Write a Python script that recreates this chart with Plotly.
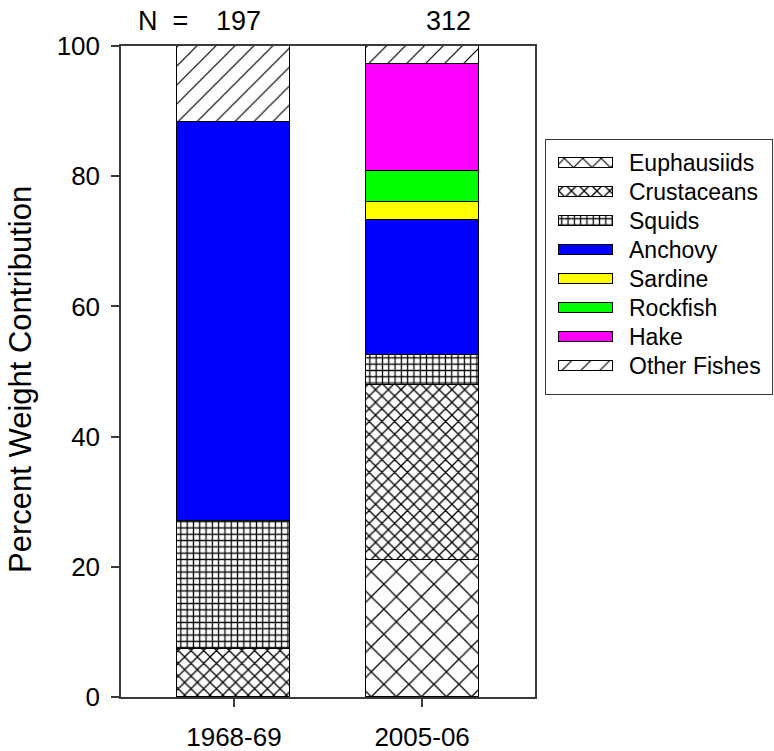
import plotly.graph_objects as go

# Diet composition (% by weight) for two sampling periods
periods = ["1968-69", "2005-06"]
sample_sizes = ["197", "312"]
prey = ["Euphausiids", "Crustaceans", "Squids", "Anchovy",
        "Sardine", "Rockfish", "Hake", "Other Fishes"]
euphausiids = [0.0, 21.1]
crustaceans = [7.3, 26.9]
squids = [19.7, 4.6]
anchovy = [61.3, 20.7]
sardine = [0.0, 2.7]
rockfish = [0.0, 4.8]
hake = [0.0, 16.4]
other_fishes = [11.7, 2.8]

series = [euphausiids, crustaceans, squids, anchovy,
          sardine, rockfish, hake, other_fishes]

FONT = "Liberation Sans, Arial, sans-serif"
AXIS_COLOR = "#3a3a3a"

W, H = 774, 751
ML, MR, MT, MB = 121, 0, 46, 54
PW, PH = W - ML - MR, H - MT - MB


def px_x(px):
    return (px - ML) / PW


def px_y(py):
    return (H - MB - py) / PH


def style(name, swatch=False):
    """Fill colour or hatch pattern for a prey category."""
    solid = {"Anchovy": "#0000ff", "Sardine": "#ffff00",
             "Rockfish": "#00ff00", "Hake": "#ff00ff"}
    if name in solid:
        return dict(color=solid[name])
    hatch = {
        "Euphausiids": dict(shape="x", size=13 if swatch else 17.7,
                            solidity=0.16 if swatch else 0.14),
        "Crustaceans": dict(shape="x", size=9, solidity=0.27),
        "Squids": dict(shape="+", size=6.3, solidity=0.36),
        "Other Fishes": dict(shape="/", size=13.4, solidity=0.09),
    }[name]
    return dict(color="white",
                pattern=dict(fgcolor="black", bgcolor="white",
                             fillmode="replace", **hatch))


fig = go.Figure()

# Stacked bars
for name, vals in zip(prey, series):
    fig.add_trace(go.Bar(
        x=periods, y=vals, name=name, width=0.6,
        marker=dict(line=dict(color="black", width=1), **style(name)),
        showlegend=False, xaxis="x", yaxis="y",
    ))

# Key drawn as a small panel of horizontal swatches
for i, name in enumerate(prey):
    fig.add_trace(go.Bar(
        x=[54], base=[13], y=[i], orientation="h", width=0.34,
        marker=dict(line=dict(color="black", width=1), **style(name, swatch=True)),
        showlegend=False, hoverinfo="skip", xaxis="x2", yaxis="y2",
    ))
    fig.add_annotation(
        x=81, y=i, xref="x2", yref="y2", text=name, showarrow=False,
        xanchor="left", yanchor="middle",
        font=dict(family=FONT, size=23, color="black"),
    )

# Sample sizes above the bars
fig.add_annotation(x=px_x(136), y=px_y(21), xref="paper", yref="paper",
                   text="N  =", showarrow=False, xanchor="left",
                   yanchor="middle",
                   font=dict(family=FONT, size=27, color="black"))
for label, cx in zip(sample_sizes, [238, 449]):
    fig.add_annotation(x=px_x(cx), y=px_y(21), xref="paper", yref="paper",
                       text=label, showarrow=False, xanchor="center",
                       yanchor="middle",
                       font=dict(family=FONT, size=27, color="black"))

# Y-axis title
fig.add_annotation(x=px_x(21), y=px_y(380), xref="paper", yref="paper",
                   text="Percent Weight Contribution", showarrow=False,
                   textangle=-90, xanchor="center", yanchor="middle",
                   font=dict(family=FONT, size=31, color="black"))

fig.update_layout(
    width=W, height=H,
    margin=dict(l=ML, r=MR, t=MT, b=MB),
    paper_bgcolor="white", plot_bgcolor="white",
    barmode="stack", bargap=0,
    font=dict(family=FONT, color="black"),
    xaxis=dict(domain=[0, px_x(535)], range=[-0.6, 1.6], type="category",
               showline=True, mirror=True, linecolor=AXIS_COLOR, linewidth=1.5,
               ticks="outside", ticklen=8, tickcolor=AXIS_COLOR, tickwidth=1.5,
               ticklabelstandoff=8,
               tickfont=dict(family=FONT, size=26, color="black"),
               showgrid=False, zeroline=False, anchor="y"),
    yaxis=dict(domain=[0, 1], range=[0, 100], tickvals=[0, 20, 40, 60, 80, 100],
               showline=True, mirror=True, linecolor=AXIS_COLOR, linewidth=1.5,
               ticks="outside", ticklen=8, tickcolor=AXIS_COLOR, tickwidth=1.5,
               ticklabelstandoff=6,
               tickfont=dict(family=FONT, size=26, color="black"),
               showgrid=False, zeroline=False, anchor="x"),
    xaxis2=dict(domain=[px_x(546), px_x(772)], range=[0, 226],
                showline=True, mirror=True, linecolor=AXIS_COLOR, linewidth=1,
                showticklabels=False, ticks="", showgrid=False, zeroline=False,
                anchor="y2", fixedrange=True),
    yaxis2=dict(domain=[px_y(394), px_y(140)], range=[7.97, -0.79],
                showline=True, mirror=True, linecolor=AXIS_COLOR, linewidth=1,
                showticklabels=False, ticks="", showgrid=False, zeroline=False,
                anchor="x2", fixedrange=True),
)

fig.write_html("out.html")
